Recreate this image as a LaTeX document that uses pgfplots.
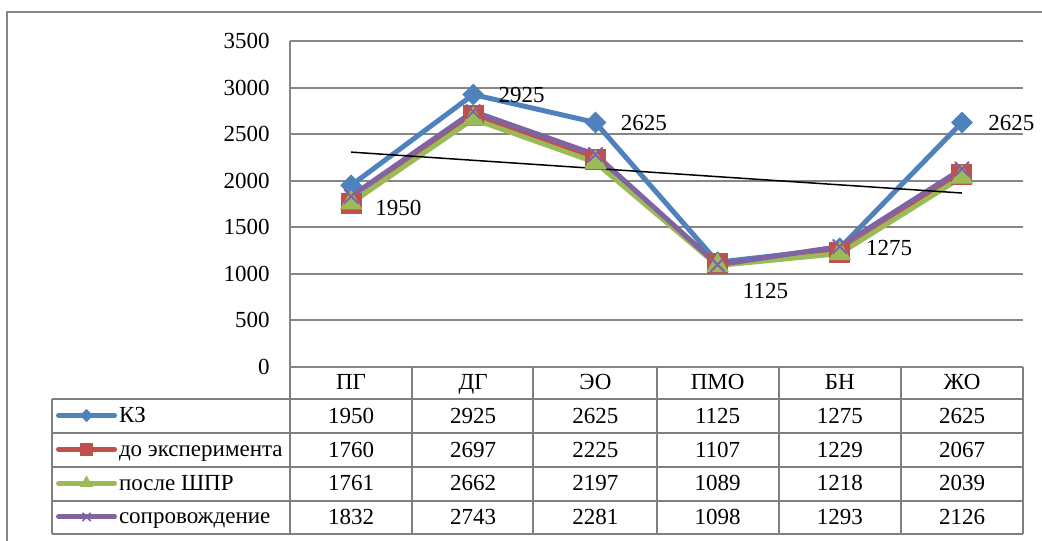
\documentclass[border=0pt]{standalone}
\usepackage{fontspec}
\setmainfont{Liberation Serif}
\usepackage{pgfplots}
\usepackage{pgfplotstable}
\pgfplotsset{compat=1.18}
\definecolor{sBlue}{HTML}{4F81BD}
\definecolor{sRed}{HTML}{C0504D}
\definecolor{sGreen}{HTML}{9BBB59}
\definecolor{sPurple}{HTML}{8064A2}
\definecolor{gridgray}{RGB}{134,134,134}
\definecolor{tabgray}{RGB}{128,128,128}

\pgfplotstableread{
idx KZ do posle sopr
0 1950 1760 1761 1832
1 2925 2697 2662 2743
2 2625 2225 2197 2281
3 1125 1107 1089 1098
4 1275 1229 1218 1293
5 2625 2067 2039 2126
}\data

\begin{document}
\begin{tikzpicture}[font=\fontsize{11.5}{13.5}\selectfont]
\begin{axis}[
 at={(145pt,-183.5pt)}, anchor=south west,
 scale only axis, width=366.5pt, height=163pt,
 xmin=-0.5, xmax=5.5, ymin=0, ymax=3500,
 ytick={0,500,...,3500}, xtick=\empty,
 axis x line*=bottom, axis y line*=left,
 axis line style={draw=gridgray, line width=1pt},
 ymajorgrids, grid style={gridgray, line width=1pt},
 major tick length=0pt,
 yticklabel style={anchor=east, inner sep=0pt, xshift=-10pt},
 /pgf/number format/assume math mode=true,
 /pgf/number format/1000 sep={},
 tick label style={font=\fontsize{11.5}{13.5}\selectfont},
 clip=false,
 legend cell align=left,
 legend style={draw=none, fill=none, at={(-0.3192,-0.0969)}, anchor=north west,
   inner sep=0pt, outer sep=0pt, row sep=0pt, column sep=0pt,
   nodes={inner sep=1pt, text height=10.95pt, text depth=3.95pt, font=\fontsize{11.5}{13.5}\selectfont}},
 legend image code/.code={\draw[mark repeat=2,mark phase=2,#1, line cap=round] plot coordinates {(0pt,0pt) (14pt,0pt) (28pt,0pt)};},
 every axis plot/.append style={line width=2.5pt},
]
\addlegendimage{sBlue, line width=2.5pt, mark=square*, mark size=2.1pt, mark options={rotate=45, solid, line width=0.5pt}}
\addlegendentry{КЗ}
\addlegendimage{sRed, line width=2.5pt, mark=square*, mark size=3pt, mark options={solid, line width=0.5pt}}
\addlegendentry{до эксперимента}
\addlegendimage{sGreen, line width=2.5pt, mark=triangle*, mark size=3.3pt, mark options={solid, line width=0.5pt}}
\addlegendentry{после ШПР}
\addlegendimage{sPurple, line width=2.5pt, mark=x, mark size=2.7pt, mark options={solid, line width=0.8pt}}
\addlegendentry{сопровождение}
\addplot[sBlue, forget plot, mark=square*, mark size=3.6pt, mark options={rotate=45, solid, line width=0.5pt}] table[x=idx,y=KZ]{\data};
\addplot[sRed, forget plot, mark=square*, mark size=5pt, mark options={solid, line width=0.5pt}] table[x=idx,y=do]{\data};
\addplot[sGreen, forget plot, mark=triangle*, mark size=6pt, mark options={solid, line width=0.5pt}] table[x=idx,y=posle]{\data};
\addplot[sPurple, forget plot, mark=x, mark size=5pt, mark options={solid, line width=1pt}] table[x=idx,y=sopr]{\data};
\addplot[black, line width=0.75pt, no marks, forget plot] coordinates {(0,2307.1) (5,1867.9)};
\node[anchor=west, inner sep=0pt, xshift=12pt, yshift=-11.5pt] at (axis cs:0,1950) {1950};
\node[anchor=west, inner sep=0pt, xshift=12.5pt] at (axis cs:1,2925) {2925};
\node[anchor=west, inner sep=0pt, xshift=12.5pt] at (axis cs:2,2625) {2625};
\node[anchor=west, inner sep=0pt, xshift=12.5pt, yshift=-14.5pt] at (axis cs:3,1125) {1125};
\node[anchor=west, inner sep=0pt, xshift=13pt] at (axis cs:4,1275) {1275};
\node[anchor=west, inner sep=0pt, xshift=13pt] at (axis cs:5,2625) {2625};
\end{axis}
\begin{scope}[x=0.5pt,y=-0.5pt]
 % outer border
 \draw[gridgray, line width=1pt] (7,560) -- (7,12) -- (1060,12);
 % table grid
 \foreach \xx in {290,412,533,657,779,901,1023} { \draw[tabgray, line width=1pt] (\xx,367) -- (\xx,534); }
 \foreach \yy in {399,432.5,466.5,500.5,534} { \draw[tabgray, line width=1pt] (52,\yy) -- (1023,\yy); }
 \draw[tabgray, line width=1pt] (52,399) -- (52,534);
 % header
 \foreach \h [count=\r from 0] in {ПГ,ДГ,ЭО,ПМО,БН,ЖО} {
   \node[anchor=base, inner sep=0pt] at ({351+122.2*\r},389.5) {\h};
 }
 \foreach \c [count=\i from 0] in {KZ,do,posle,sopr} {
   \foreach \r in {0,...,5} {
     \pgfplotstablegetelem{\r}{\c}\of\data
     \node[anchor=base, inner sep=0pt] at ({351+122.2*\r},{423.25+33.8*\i}) {\pgfplotsretval};
   }
 }
 \pgfresetboundingbox
 \path[use as bounding box] (0,0) rectangle (1042,540);
\end{scope}
\end{tikzpicture}
\end{document}
